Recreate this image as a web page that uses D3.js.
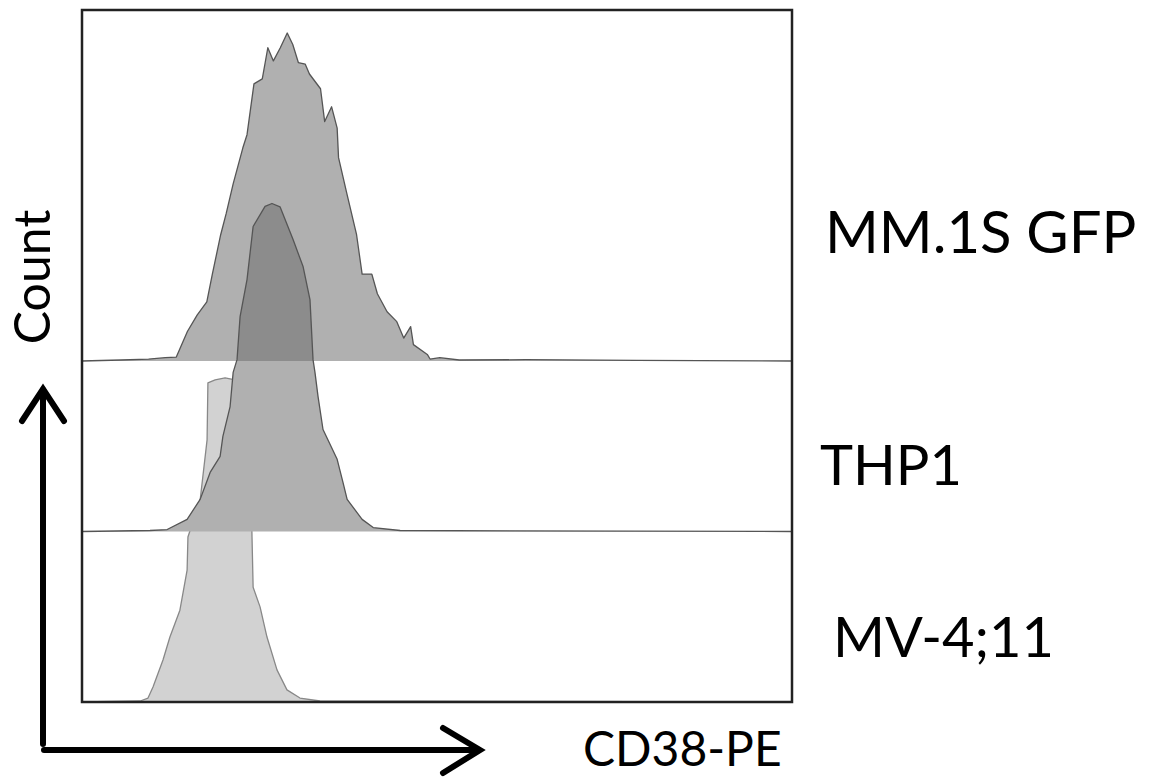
<!DOCTYPE html>
<html>
<head>
<meta charset="utf-8">
<script src="https://cdn.jsdelivr.net/npm/d3@7"></script>
<style>
  html, body { margin: 0; padding: 0; background: #fff; }
  svg { display: block; }
  text { font-family: Lato, "Open Sans", sans-serif; fill: #000; }
</style>
</head>
<body>
<svg id="chart" width="1150" height="778"></svg>
<script>
// CD38-PE fluorescence, channel (0-256) vs. normalized count (% of mode)
const sampleNames = ["MV-4;11", "THP1", "MM.1S GFP"];

const mv411Channel = [0, 21, 23.8, 25.6, 29.2, 31.7, 35.3, 37.9, 38.2, 42.6, 45.1, 45.4, 48, 51.6, 55.2, 58.8, 60.6, 61.3, 61.7, 64.2, 66.7, 70.3, 73.9, 78.6, 85.8, 256];
const mv411Count   = [0, 0.3, 1.2, 4.6, 12.8, 19.8, 28, 40.2, 50.3, 61.6, 79.9, 97.3, 98.2, 98.8, 98.2, 97, 79.9, 50.3, 35, 29, 19.8, 9.8, 3.7, 1.2, 0.3, 0];

const thp1Channel = [0, 24.5, 30.7, 37.9, 42.6, 46.2, 49.8, 50.8, 53.4, 54.5, 55.9, 57, 59.5, 61.7, 66, 68.5, 71.4, 76.1, 79.7, 82.2, 83.3, 84, 85.1, 86.9, 92, 94.1, 95.6, 101, 105, 114.7, 256];
const thp1Count   = [0, 0.3, 0.6, 3.7, 9.8, 18, 22.9, 29, 38.1, 48.5, 52.4, 65.5, 76.8, 93, 99.1, 100, 99, 89, 80.8, 70.7, 52.4, 48.5, 41.2, 31.1, 22, 15, 9.8, 3.7, 1.2, 0.3, 0];

const mm1sChannel = [0, 14, 24, 30, 34, 38, 41.5, 45, 47, 50, 52, 54.5, 58, 59.5, 62, 65, 67, 69, 71.5, 74, 76, 78, 80.5, 82, 86, 87.5, 90, 92, 92.5, 95.5, 99, 101, 104.5, 106.5, 110, 113.5, 116, 118.5, 119.5, 124.5, 125.5, 129, 136, 160, 200, 256];
const mm1sCount   = [0, 0.3, 0.6, 1, 1.2, 9, 14, 18, 26.5, 38.5, 45, 54, 65, 69, 84.5, 86, 95.5, 91.5, 95.5, 100, 96.5, 91, 90.5, 87.5, 83, 73, 77.5, 71, 62, 51, 38.5, 26.5, 26.5, 20.5, 15, 12, 7, 10.5, 5, 2, 0.6, 1, 0.3, 0.4, 0.2, 0];

const xAxisLabel = "CD38-PE";
const yAxisLabel = "Count";

// stacked histograms, bottom lane first
const series = [
  { name: sampleNames[0], pts: d3.zip(mv411Channel, mv411Count), fill: "#d2d2d2", opacity: 1,    stroke: "#888" },
  { name: sampleNames[1], pts: d3.zip(thp1Channel, thp1Count),   fill: "#b0b0b0", opacity: 1,    stroke: "#555" },
  { name: sampleNames[2], pts: d3.zip(mm1sChannel, mm1sCount),   fill: "#707070", opacity: 0.55, stroke: "#555" }
];

const svg = d3.select("#chart");

const plot = { left: 82, top: 10, right: 792, bottom: 702 };
const laneOffset = 170.5;   // vertical offset between stacked histograms
const peakHeight = 328;     // pixel height of 100% of mode

const x = d3.scaleLinear().domain([0, 256]).range([plot.left, plot.right]);
const y = d3.scaleLinear().domain([0, 100]).range([0, peakHeight]);

const area = (base) => d3.area()
  .x(d => x(d[0]))
  .y0(base)
  .y1(d => base - y(d[1]));
const line = (base) => d3.line()
  .x(d => x(d[0]))
  .y(d => base - y(d[1]));

const g = svg.append("g");
const baseOf = i => plot.bottom - i * laneOffset;

function drawFill(i) {
  const s = series[i];
  g.append("path")
    .attr("d", area(baseOf(i))(s.pts))
    .attr("fill", s.fill)
    .attr("fill-opacity", s.opacity);
}
function drawOutline(i) {
  const s = series[i];
  g.append("path")
    .attr("d", line(baseOf(i))(s.pts))
    .attr("fill", "none")
    .attr("stroke", s.stroke)
    .attr("stroke-width", 1.3)
    .attr("stroke-linejoin", "round");
}

// MV-4;11 sits behind THP1; MM.1S is translucent over THP1
drawFill(0);
drawOutline(0);
drawFill(1);
drawFill(2);
drawOutline(1);
drawOutline(2);

// plot frame
svg.append("rect")
  .attr("x", plot.left)
  .attr("y", plot.top)
  .attr("width", plot.right - plot.left)
  .attr("height", plot.bottom - plot.top)
  .attr("fill", "none")
  .attr("stroke", "#222")
  .attr("stroke-width", 2.5);

// sample labels beside each lane
const labelPos = [
  { x: 833, y: 657, size: 56 },
  { x: 820, y: 485, size: 56 },
  { x: 825, y: 253, size: 58 }
];
series.forEach((s, i) => {
  svg.append("text")
    .attr("x", labelPos[i].x)
    .attr("y", labelPos[i].y)
    .attr("font-size", labelPos[i].size)
    .text(s.name);
});

// axis arrows
const arrow = svg.append("g")
  .attr("stroke", "#000")
  .attr("stroke-width", 6)
  .attr("fill", "none")
  .attr("stroke-linecap", "round")
  .attr("stroke-linejoin", "miter");
arrow.append("line").attr("x1", 43).attr("y1", 744).attr("x2", 43).attr("y2", 390);
arrow.append("polyline").attr("points", "22,421 43,389 64,421");
arrow.append("line").attr("x1", 44).attr("y1", 750).attr("x2", 478).attr("y2", 750);
arrow.append("polyline").attr("points", "443,728 480,750 443,773");

svg.append("text")
  .attr("transform", "translate(50,277) rotate(-90)")
  .attr("text-anchor", "middle")
  .attr("font-size", 50)
  .text(yAxisLabel);

svg.append("text")
  .attr("x", 583)
  .attr("y", 766)
  .attr("font-size", 48)
  .text(xAxisLabel);
</script>
</body>
</html>
